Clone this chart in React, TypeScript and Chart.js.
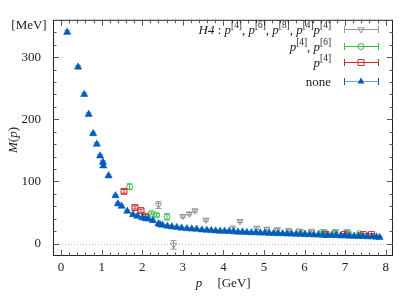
import React, { useEffect, useRef } from "react";
import { Chart, registerables } from "chart.js";

Chart.register(...registerables);

// ---------- data ----------
const blueP = [0.15, 0.42, 0.57, 0.68, 0.79, 0.88, 0.96, 1.03, 1.04, 1.17, 1.34, 1.40, 1.49, 1.63, 1.77, 1.88, 2.00, 2.08, 2.15, 2.26, 2.40, 2.44, 2.50, 2.62, 2.73, 2.85, 2.97, 3.10, 3.22, 3.34, 3.47, 3.59, 3.70, 3.81, 3.92, 4.03, 4.14, 4.25, 4.36, 4.47, 4.58, 4.69, 4.80, 4.91, 5.02, 5.13, 5.24, 5.35, 5.46, 5.57, 5.68, 5.79, 5.90, 6.01, 6.12, 6.23, 6.34, 6.45, 6.56, 6.67, 6.78, 6.89, 7.00, 7.11, 7.22, 7.33, 7.44, 7.55, 7.66, 7.77, 7.85];
const blueM = [340, 284, 240, 208, 177, 160, 141, 131, 125, 109, 77, 64, 60, 52, 46.5, 44, 41.5, 40, 39.5, 37, 32, 30.5, 29.5, 28, 27, 26, 25, 24, 23.5, 23, 22, 21.5, 21, 20.5, 20, 20, 19.5, 19, 18.5, 18.5, 18, 17.5, 17.5, 17, 17, 16.5, 16.5, 16, 16, 15.5, 15.5, 15, 15, 14.5, 14.5, 14, 14, 13.5, 13.5, 13, 13, 12.5, 12.5, 12, 12, 11.5, 11.5, 11, 11, 10.5, 10];
const blueE = [3, 2.5, 2.5, 2.5, 2.5, 2.5, 2.5, 2.5, 2.5, 2, 2, 2, 2, 2, 2, 2, 2, 2, 2, 2, 2, 1.5, 1.5, 1.5, 1.5, 1.5, 1.5, 1.5, 1.5, 1.5, 1.5, 1.5, 1.5, 1.5, 1.5, 1.5, 1.5, 1.5, 1.5, 1.5, 1.5, 1.5, 1.5, 1.5, 1.5, 1.5, 1.5, 1.5, 1.5, 1.5, 1.5, 1.5, 1.5, 1.5, 1.5, 1.5, 1.5, 1.5, 1.5, 1.5, 1.5, 1.5, 1.5, 1.5, 1.5, 1.5, 1.5, 1.5, 1.5, 1.5, 1.5];

const redP = [1.55, 1.82, 1.97, 2.08, 6.53, 6.98, 7.45, 7.65];
const redM = [84, 58, 53, 44, 14.5, 14.5, 14.5, 14.5];
const redE = [3, 2.5, 2.5, 2.5, 1.5, 1.5, 1.5, 1.5];

const greenP = [1.69, 2.23, 2.35, 2.61, 5.97, 6.40, 6.74, 7.08, 7.35];
const greenM = [91.5, 48.6, 46, 43, 17, 17.5, 17.5, 17, 16];
const greenE = [4.5, 2, 2, 5, 1.5, 1.5, 1.5, 1.5, 1.5];

const greyP = [2.40, 2.77, 3.00, 3.16, 3.30, 3.57, 4.23, 4.41, 4.82, 5.07, 5.33, 5.60, 5.87, 6.17, 6.48, 6.77, 7.04];
const greyM = [62, -2, 44, 48, 53, 38, 24, 36, 25, 23.5, 22.5, 21.5, 20.5, 20, 19.5, 19.5, 19.5];
const greyE = [5.5, 7, 2, 2, 2, 2, 4, 2, 2, 2, 2, 2, 2, 2, 2, 2, 2];

const xTicks = [0, 1, 2, 3, 4, 5, 6, 7, 8];
const yTicks = [0, 100, 200, 300];

// ---------- styles ----------
const FONT = "'Liberation Serif', 'DejaVu Serif', serif";
const BLUE = "rgb(0, 92, 185)";
const BLUE_ERR = "rgb(110, 165, 225)";
const RED = "rgb(205, 45, 45)";
const GREEN = "rgb(60, 190, 70)";
const GREY = "rgb(150, 150, 150)";

type Seg = { t: string; it?: boolean; sup?: boolean };

function drawRich(ctx: CanvasRenderingContext2D, segs: Seg[], x: number, y: number, size: number, align: "right" | "left" | "center") {
  const fontFor = (s: Seg) => `${s.it ? "italic " : ""}${s.sup ? size * 0.72 : size}px ${FONT}`;
  let w = 0;
  for (const s of segs) {
    ctx.font = fontFor(s);
    w += ctx.measureText(s.t).width;
  }
  let cx = align === "right" ? x - w : align === "center" ? x - w / 2 : x;
  ctx.textAlign = "left";
  ctx.textBaseline = "alphabetic";
  for (const s of segs) {
    ctx.font = fontFor(s);
    ctx.fillText(s.t, cx, s.sup ? y - size * 0.4 : y);
    cx += ctx.measureText(s.t).width;
  }
}

function drawMarker(ctx: CanvasRenderingContext2D, kind: string, x: number, y: number, color: string) {
  ctx.save();
  ctx.strokeStyle = color;
  ctx.fillStyle = color;
  ctx.lineWidth = 1;
  ctx.beginPath();
  if (kind === "tri") {
    const r = 4;
    ctx.moveTo(x, y - r);
    ctx.lineTo(x + r * 0.866, y + r * 0.5);
    ctx.lineTo(x - r * 0.866, y + r * 0.5);
    ctx.closePath();
    ctx.fill();
  } else if (kind === "itri") {
    const r = 3.5;
    ctx.moveTo(x, y + r);
    ctx.lineTo(x + r * 0.866, y - r * 0.5);
    ctx.lineTo(x - r * 0.866, y - r * 0.5);
    ctx.closePath();
    ctx.stroke();
  } else if (kind === "circ") {
    ctx.arc(x, y, 3, 0, Math.PI * 2);
    ctx.stroke();
  } else if (kind === "sq") {
    ctx.rect(x - 3, y - 3, 6, 6);
    ctx.stroke();
  }
  ctx.restore();
}

const errorBarPlugin = {
  id: "errbars",
  beforeDatasetsDraw(chart: any) {
    const ctx = chart.ctx;
    const xs = chart.scales.x;
    const ys = chart.scales.y;
    ctx.save();
    chart.data.datasets.forEach((ds: any) => {
      if (!ds.errs) return;
      ctx.strokeStyle = ds.errColor;
      ctx.lineWidth = 1;
      ds.data.forEach((pt: any, i: number) => {
        const e = ds.errs[i];
        const px = xs.getPixelForValue(pt.x);
        const y1 = ys.getPixelForValue(pt.y - e);
        const y2 = ys.getPixelForValue(pt.y + e);
        ctx.beginPath();
        ctx.moveTo(px, y1);
        ctx.lineTo(px, y2);
        ctx.moveTo(px - 3, y1);
        ctx.lineTo(px + 3, y1);
        ctx.moveTo(px - 3, y2);
        ctx.lineTo(px + 3, y2);
        ctx.stroke();
      });
    });
    ctx.restore();
  },
};

const framePlugin = {
  id: "frame",
  beforeDatasetsDraw(chart: any) {
    const ctx = chart.ctx;
    const { left, right } = chart.chartArea;
    const ys = chart.scales.y;
    const y0 = Math.round(ys.getPixelForValue(0)) + 0.5;
    ctx.save();
    ctx.strokeStyle = "rgb(190,190,190)";
    ctx.lineWidth = 1;
    ctx.setLineDash([1, 2]);
    ctx.beginPath();
    ctx.moveTo(left, y0);
    ctx.lineTo(right, y0);
    ctx.stroke();
    ctx.restore();
  },
  afterDraw(chart: any) {
    const ctx = chart.ctx;
    const { left, right, top, bottom } = chart.chartArea;
    const xs = chart.scales.x;
    const ys = chart.scales.y;
    ctx.save();
    ctx.strokeStyle = "#222";
    ctx.lineWidth = 1;
    ctx.strokeRect(left + 0.5, top + 0.5, right - left - 1, bottom - top - 1);
    ctx.strokeStyle = "#555";
    ctx.beginPath();
    for (let k = -1; k <= 41; k++) {
      const v = k * 0.2;
      const px = Math.round(xs.getPixelForValue(v)) + 0.5;
      if (px <= left + 1 || px >= right - 1) continue;
      const major = k % 5 === 0;
      const L = major ? 6 : 3.5;
      ctx.moveTo(px, bottom);
      ctx.lineTo(px, bottom - L);
      ctx.moveTo(px, top);
      ctx.lineTo(px, top + L);
    }
    for (let k = -1; k <= 18; k++) {
      const v = k * 20;
      const py = Math.round(ys.getPixelForValue(v)) + 0.5;
      if (py <= top + 1 || py >= bottom - 1) continue;
      const major = k % 5 === 0;
      const L = major ? 6 : 3.5;
      ctx.moveTo(left, py);
      ctx.lineTo(left + L, py);
      ctx.moveTo(right, py);
      ctx.lineTo(right - L, py);
    }
    ctx.stroke();

    // axis titles
    ctx.fillStyle = "#222";
    drawRich(ctx, [{ t: "[MeV]" }], 29, 29, 13, "center");
    ctx.save();
    ctx.translate(17, 140);
    ctx.rotate(-Math.PI / 2);
    drawRich(ctx, [{ t: "M", it: true }, { t: "(" }, { t: "p", it: true }, { t: ")" }], 0, 0, 13, "center");
    ctx.restore();
    drawRich(ctx, [{ t: "p", it: true }], 199, 287, 13, "center");
    drawRich(ctx, [{ t: "[GeV]" }], 234, 287, 13, "center");

    // legend
    const rows: { segs: Seg[]; y: number; kind: string; color: string; lineColor: string }[] = [
      {
        segs: [
          { t: "H4", it: true }, { t: " : " },
          { t: "p", it: true }, { t: "[4]", sup: true }, { t: ", " },
          { t: "p", it: true }, { t: "[6]", sup: true }, { t: ", " },
          { t: "p", it: true }, { t: "[8]", sup: true }, { t: ", " },
          { t: "p", it: true }, { t: "[4]", sup: true },
          { t: "p", it: true }, { t: "[4]", sup: true },
        ],
        y: 29.5, kind: "itri", color: GREY, lineColor: GREY,
      },
      {
        segs: [{ t: "p", it: true }, { t: "[4]", sup: true }, { t: ", " }, { t: "p", it: true }, { t: "[6]", sup: true }],
        y: 46.5, kind: "circ", color: GREEN, lineColor: GREEN,
      },
      { segs: [{ t: "p", it: true }, { t: "[4]", sup: true }], y: 62.5, kind: "sq", color: RED, lineColor: RED },
      { segs: [{ t: "none" }], y: 81.5, kind: "tri", color: BLUE, lineColor: BLUE_ERR },
    ];
    rows.forEach((r) => {
      ctx.fillStyle = "#222";
      drawRich(ctx, r.segs, 331, r.y + 4, 13, "right");
      ctx.strokeStyle = r.lineColor;
      ctx.lineWidth = 1;
      ctx.beginPath();
      ctx.moveTo(344, r.y);
      ctx.lineTo(379, r.y);
      ctx.stroke();
      ctx.strokeStyle = r.color;
      ctx.beginPath();
      ctx.moveTo(344.5, r.y - 3.5);
      ctx.lineTo(344.5, r.y + 3.5);
      ctx.moveTo(378.5, r.y - 3.5);
      ctx.lineTo(378.5, r.y + 3.5);
      ctx.stroke();
      drawMarker(ctx, r.kind, 361, r.y, r.color);
    });
    ctx.restore();
  },
};

function pts(xs: number[], ys: number[]) {
  return xs.map((x, i) => ({ x, y: ys[i] }));
}

export default function App() {
  const ref = useRef<HTMLCanvasElement | null>(null);
  useEffect(() => {
    if (!ref.current) return;
    const chart = new Chart(ref.current, {
      type: "scatter",
      data: {
        datasets: [
          {
            label: "none",
            data: pts(blueP, blueM),
            errs: blueE,
            errColor: BLUE_ERR,
            pointStyle: "triangle",
            pointRadius: 4.2,
            backgroundColor: BLUE,
            borderColor: BLUE,
            borderWidth: 0.5,
            order: 0,
          } as any,
          {
            label: "p4",
            data: pts(redP, redM),
            errs: redE,
            errColor: RED,
            pointStyle: "rect",
            pointRadius: 4.2,
            backgroundColor: "rgba(0,0,0,0)",
            borderColor: RED,
            borderWidth: 1,
            order: 1,
          } as any,
          {
            label: "p4p6",
            data: pts(greenP, greenM),
            errs: greenE,
            errColor: GREEN,
            pointStyle: "circle",
            pointRadius: 3,
            backgroundColor: "rgba(0,0,0,0)",
            borderColor: GREEN,
            borderWidth: 1,
            order: 2,
          } as any,
          {
            label: "H4",
            data: pts(greyP, greyM),
            errs: greyE,
            errColor: GREY,
            pointStyle: "triangle",
            rotation: 180,
            pointRadius: 3.5,
            backgroundColor: "rgba(0,0,0,0)",
            borderColor: GREY,
            borderWidth: 1,
            order: 3,
          } as any,
        ],
      },
      options: {
        animation: false,
        responsive: false,
        layout: { padding: { top: 14, right: 22, left: 0, bottom: 0 } },
        plugins: { legend: { display: false }, tooltip: { enabled: false } },
        scales: {
          x: {
            type: "linear",
            min: -0.2,
            max: 8.18,
            grid: { display: false, drawTicks: false },
            border: { display: false },
            afterBuildTicks: (s: any) => {
              s.ticks = xTicks.map((v) => ({ value: v }));
            },
            afterFit: (s: any) => {
              s.height = 42;
            },
            ticks: {
              padding: 4,
              color: "#222",
              font: { family: FONT, size: 13 },
              callback: (v: any) => String(v),
            },
          },
          y: {
            type: "linear",
            min: -20,
            max: 360,
            grid: { display: false, drawTicks: false },
            border: { display: false },
            afterBuildTicks: (s: any) => {
              s.ticks = yTicks.map((v) => ({ value: v }));
            },
            afterFit: (s: any) => {
              s.width = 53;
            },
            ticks: {
              padding: 12,
              color: "#222",
              font: { family: FONT, size: 13 },
              callback: (v: any) => String(v),
            },
          },
        },
      } as any,
      plugins: [framePlugin, errorBarPlugin],
    });
    return () => chart.destroy();
  }, []);
  return (
    <canvas
      ref={ref}
      width={415}
      height={298}
      style={{ position: "fixed", left: 0, top: 0, width: 415, height: 298, display: "block" }}
    />
  );
}
